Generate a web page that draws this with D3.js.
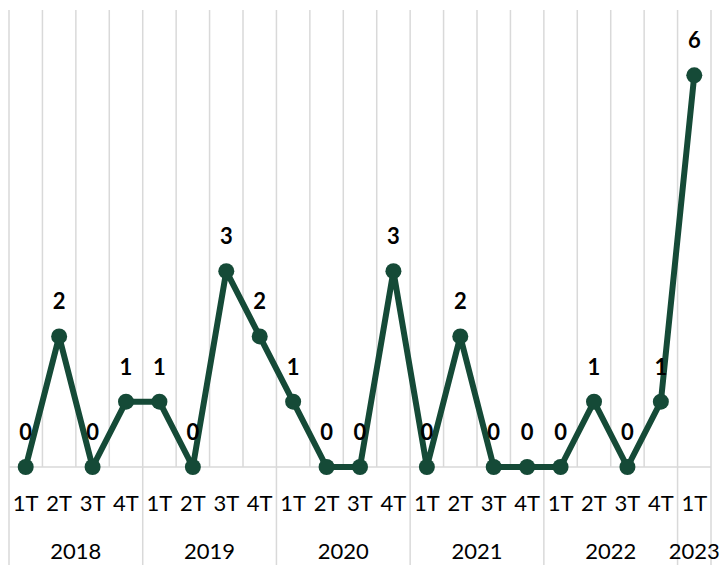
<!doctype html>
<html>
<head>
<meta charset="utf-8">
<script src="https://d3js.org/d3.v7.min.js"></script>
<style>
  body { margin: 0; background: #fff; }
  svg { display: block; }
  .qlab { font: 22px Lato, "Open Sans", sans-serif; fill: #000; text-anchor: middle; }
  .ylab { font: 22px Lato, "Open Sans", sans-serif; fill: #000; text-anchor: middle; }
  .vlab { font: bold 22px Lato, "Open Sans", sans-serif; fill: #000; text-anchor: middle; }
</style>
</head>
<body>
<svg id="chart" width="723" height="565"></svg>
<script>
// data
var years = ["2018", "2019", "2020", "2021", "2022", "2023"];
var quartersPerYear = [4, 4, 4, 4, 4, 1];
var quarters = ["1T","2T","3T","4T", "1T","2T","3T","4T", "1T","2T","3T","4T",
                "1T","2T","3T","4T", "1T","2T","3T","4T", "1T"];
var values = [0, 2, 0, 1, 1, 0, 3, 2, 1, 0, 0, 3, 0, 2, 0, 0, 0, 1, 0, 1, 6];

var width = 723, height = 565;
var plotLeft = 9, plotRight = 711, plotTop = 10, plotBase = 467;
var green = "#154a37", grid = "#d9d9d9";

var svg = d3.select("#chart");

var x = d3.scaleBand()
  .domain(d3.range(values.length))
  .range([plotLeft, plotRight])
  .padding(0);

var y = d3.scaleLinear().domain([0, 7]).range([plotBase, plotTop]);

var cx = function(i) { return x(i) + x.bandwidth() / 2; };

// year boundaries (category index where each year starts)
var yearStart = [];
var acc = 0;
quartersPerYear.forEach(function(n) { yearStart.push(acc); acc += n; });
var edges = d3.range(values.length + 1);
var yearEdges = yearStart.concat([values.length]);

function edgeX(k) { return k < values.length ? x(k) : x(values.length - 1) + x.bandwidth(); }

// vertical gridlines
svg.append("g").selectAll("line")
  .data(edges)
  .enter().append("line")
  .attr("x1", edgeX).attr("x2", edgeX)
  .attr("y1", plotTop)
  .attr("y2", function(k) { return yearEdges.indexOf(k) >= 0 ? height : plotBase; })
  .attr("stroke", grid)
  .attr("stroke-width", 1.5);

// axis baseline
svg.append("line")
  .attr("x1", plotLeft).attr("x2", plotRight)
  .attr("y1", plotBase).attr("y2", plotBase)
  .attr("stroke", grid)
  .attr("stroke-width", 1.5);

// quarter labels
svg.append("g").selectAll("text")
  .data(quarters)
  .enter().append("text")
  .attr("class", "qlab")
  .attr("x", function(d, i) { return cx(i); })
  .attr("y", 511)
  .text(function(d) { return d; });

// year labels
svg.append("g").selectAll("text")
  .data(years)
  .enter().append("text")
  .attr("class", "ylab")
  .attr("x", function(d, i) {
    var a = edgeX(yearStart[i]), b = edgeX(yearStart[i] + quartersPerYear[i]);
    return (a + b) / 2;
  })
  .attr("y", 559)
  .text(function(d) { return d; });

// line
var line = d3.line()
  .x(function(d, i) { return cx(i); })
  .y(function(d) { return y(d); });

svg.append("path")
  .datum(values)
  .attr("d", line)
  .attr("fill", "none")
  .attr("stroke", green)
  .attr("stroke-width", 6)
  .attr("stroke-linejoin", "round");

// markers
svg.append("g").selectAll("circle")
  .data(values)
  .enter().append("circle")
  .attr("cx", function(d, i) { return cx(i); })
  .attr("cy", function(d) { return y(d); })
  .attr("r", 8)
  .attr("fill", green);

// value labels
svg.append("g").selectAll("text")
  .data(values)
  .enter().append("text")
  .attr("class", "vlab")
  .attr("x", function(d, i) { return cx(i); })
  .attr("y", function(d) { return y(d) - 27; })
  .text(function(d) { return d; });
</script>
</body>
</html>
